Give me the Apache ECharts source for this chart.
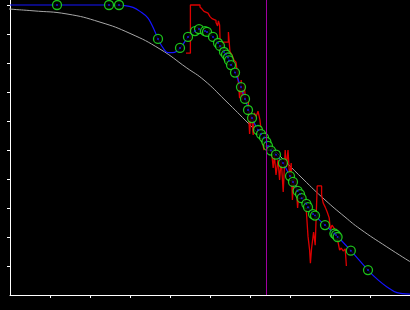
<!DOCTYPE html>
<html><head><meta charset="utf-8">
<script src="https://cdn.jsdelivr.net/npm/echarts@6/dist/echarts.min.js"></script>
<style>html,body{margin:0;padding:0;background:#000}#c{width:410px;height:310px}</style>
</head><body><div id="c"></div>
<script>
const xTicks = [1,2,3,4,5,6,7,8,9];
const yTicks = [1,2,3,4,5,6,7,8,9,10];

const grayX = [-0.25,0,0.575,1.425,2.25,3.0,3.75,4.42,4.85,5.375,6.0,6.625,7.325,7.875,8.375,8.75,9.42,10];
const grayY = [9.9,9.86,9.8,9.69,9.41,9.02,8.48,7.83,7.41,6.72,5.86,4.97,4.0,3.28,2.69,2.28,1.66,1.15];

const blueX = [0,1.25,2.5,2.875,3.075,3.25,3.45,3.625,3.7,3.825,3.95,4.075,4.25,4.45,4.625,4.725,4.875,5.075,5.25,5.45,5.625,5.775,5.875,6.05,6.2,6.4,6.65,6.825,7.0,7.25,7.45,7.625,7.875,8.15,8.52,8.95,9.2,9.425,9.675,10];
const blueY = [10,10,10,9.98,9.92,9.78,9.55,9.08,8.83,8.52,8.36,8.36,8.51,8.89,9.1,9.16,9.11,8.9,8.59,8.19,7.67,7.17,6.76,6.1,5.69,5.28,4.84,4.55,4.1,3.48,3.03,2.74,2.41,2.07,1.53,0.86,0.52,0.28,0.08,0.03];

const pointX = [1.175,2.475,2.725,3.7,4.25,4.45,4.625,4.725,4.875,4.925,5.075,5.2,5.25,5.35,5.4,5.45,5.475,5.525,5.625,5.775,5.875,5.95,6.05,6.2,6.275,6.35,6.41,6.45,6.525,6.65,6.825,7.0,7.075,7.19,7.25,7.29,7.41,7.45,7.575,7.625,7.875,8.11,8.15,8.19,8.52,8.95];
const pointY = [10,10,10,8.83,8.52,8.9,9.1,9.17,9.1,9.07,8.9,8.69,8.59,8.38,8.29,8.19,8.09,7.93,7.67,7.17,6.76,6.38,6.1,5.69,5.55,5.43,5.28,5.14,4.98,4.84,4.55,4.1,3.9,3.59,3.48,3.34,3.14,3.03,2.79,2.74,2.41,2.12,2.07,2.0,1.53,0.86];

const redX = [4.4,4.51,4.75,4.8,4.85,4.9,4.95,5.0,5.05,5.1,5.15,5.19,5.21,5.24,5.26,5.33,5.38,5.46,5.5,5.55,5.6,5.65,5.7,5.74,5.78,5.81,5.85,5.89,5.93,5.96,5.99,6.03,6.08,6.11,6.15,6.2,6.25,6.3,6.35,6.39,6.43,6.46,6.5,6.54,6.58,6.61,6.65,6.7,6.74,6.78,6.83,6.88,6.91,6.95,6.99,7.03,7.06,7.1,7.15,7.19,7.23,7.28,7.33,7.36,7.41,7.45,7.49,7.51,7.54,7.59,7.63,7.68,7.73,7.79,7.83,7.88,7.93,7.98,8.01,8.05,8.1,8.15,8.19,8.24,8.28,8.33,8.38,8.41];
const redY = [8.34,10,9.93,9.86,9.78,9.72,9.66,9.6,9.53,9.47,9.4,9.28,9.45,9.31,8.45,8.72,8.72,9.07,8.38,8.28,8.1,8.03,7.48,6.79,7.41,6.72,7.28,6.72,6.66,6.38,5.55,6.31,5.52,6.28,6.14,6.34,6.03,5.34,5.0,5.41,5.17,5.0,5.07,4.93,4.38,4.83,4.14,4.66,3.97,4.66,3.55,5.0,4.41,5.0,4.07,4.55,3.28,4.03,3.86,3.0,3.62,3.38,3.45,3.28,2.86,2.03,1.55,1.1,1.62,2.17,1.72,3.76,3.76,3.45,3.17,3.03,2.86,2.66,2.24,2.41,2.31,2.17,1.9,1.55,1.62,1.52,1.59,1.0];

const markerX = 6.41;

const zip = (xs, ys) => xs.map((x, i) => [x, ys[i]]);

const chart = echarts.init(document.getElementById('c'), null, {renderer: 'canvas'});
chart.setOption({
  animation: false,
  backgroundColor: '#000',
  grid: {left: 10, right: 0, top: 0, bottom: 15},
  xAxis: {
    type: 'value', min: 0, max: 10,
    axisLine: {show: true, lineStyle: {color: '#fff', width: 1}},
    axisTick: {show: true, inside: false, length: 3, customValues: xTicks, lineStyle: {color: '#fff', width: 1}},
    axisLabel: {show: false},
    splitLine: {show: false}
  },
  yAxis: {
    type: 'value', min: 0, max: 10.1724,
    axisLine: {show: true, lineStyle: {color: '#fff', width: 1}},
    axisTick: {show: true, inside: false, length: 3, customValues: yTicks, lineStyle: {color: '#fff', width: 1}},
    axisLabel: {show: false},
    splitLine: {show: false}
  },
  series: [
    {
      type: 'line', data: zip(grayX, grayY), smooth: true, showSymbol: false, clip: false,
      lineStyle: {color: '#a8a8a8', width: 1}, z: 1, silent: true
    },
    {
      type: 'line', data: zip(redX, redY), step: 'end', showSymbol: false,
      lineStyle: {color: '#dd0000', width: 1.3}, z: 2, silent: true
    },
    {
      type: 'line', data: zip(blueX, blueY), smooth: 0.35, showSymbol: false,
      lineStyle: {color: '#1414ff', width: 1.2}, z: 3, silent: true,
      markLine: {
        silent: true, symbol: 'none', label: {show: false},
        lineStyle: {color: '#a000a0', width: 1, type: 'solid'},
        data: [{xAxis: markerX}]
      }
    },
    {
      type: 'scatter', data: zip(pointX, pointY), symbol: 'circle', symbolSize: 9,
      itemStyle: {color: '#000', borderColor: '#22f022', borderWidth: 1.3}, z: 4, silent: true
    },
    {
      type: 'scatter', data: zip(pointX, pointY), symbol: 'circle', symbolSize: 2,
      itemStyle: {color: '#2020ff'}, z: 5, silent: true
    }
  ]
});
</script>
</body></html>
